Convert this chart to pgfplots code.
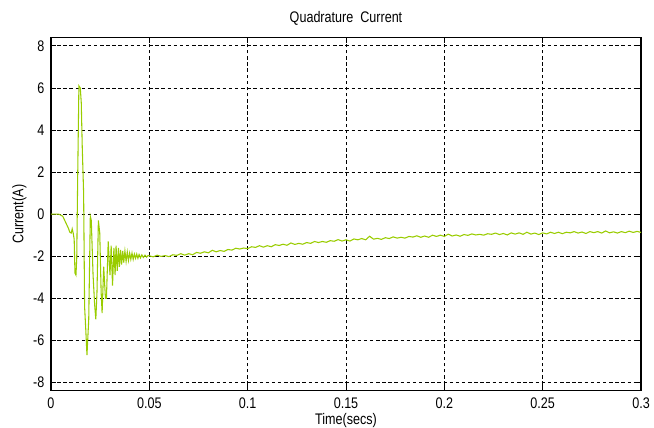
\documentclass[border=0pt]{standalone}
\usepackage{fontspec}
\setmainfont{Liberation Sans}[FakeStretch=0.82]
\usepackage{pgfplots}
\pgfplotsset{compat=1.18}
\definecolor{sig}{RGB}{153,204,0}
\begin{document}
\fontsize{11.5pt}{13pt}\selectfont
\begin{tikzpicture}
\begin{axis}[
  scale only axis,
  width=442.5pt, height=265pt,
  xmin=0, xmax=0.3, ymin=-8.4, ymax=8.4,
  xtick={0,0.05,0.1,0.15,0.2,0.25,0.3},
  xticklabels={0,0.05,0.1,0.15,0.2,0.25,0.3},
  ytick={-8,-6,-4,-2,0,2,4,6,8},
  yticklabels={-8,-6,-4,-2,0,2,4,6,8},
  tick align=inside,
  tick pos=both,
  major tick length=4pt,
  tick style={black, line width=0.6pt},
  grid=major,
  major grid style={black, line width=0.6pt, dash pattern=on 2.6pt off 2pt},
  axis line style={black, line width=0.8pt},
  title={Quadrature\ \ Current},
  xlabel={Time(secs)},
  ylabel={Current(A)},
  xlabel style={yshift=4pt},
  ylabel style={yshift=-3pt},
  every tick label/.append style={font=\fontsize{11.5pt}{13pt}\selectfont},
  label style={font=\fontsize{11.5pt}{13pt}\selectfont},
  title style={font=\fontsize{11.5pt}{13pt}\selectfont, yshift=-1pt},
  xticklabel style={yshift=-1pt},
  yticklabel style={xshift=-1pt},
]
\coordinate (bl) at (rel axis cs:-0.0864,-0.1047);
\coordinate (tr) at (rel axis cs:1.022,1.106);
\addplot[sig, line width=0.8pt] coordinates {
(0,0) (0.004,0) (0.005,-0.05) (0.006,-0.1) (0.0075,-0.4) (0.009,-0.7) (0.0095,-0.85)
(0.0103,-0.9) (0.0108,-0.7) (0.0113,-0.9) (0.0118,-1.2) (0.0122,-2.8) (0.0127,-2.9)
(0.0131,-2.1) (0.0136,1.9) (0.0142,6.1) (0.0149,6.0) (0.0154,5.3) (0.0159,3.2)
(0.0166,1.0) (0.0171,-4.4) (0.0177,-5.5) (0.0183,-6.7) (0.0192,-5.0) (0.0200,-0.1)
(0.0205,-0.3) (0.0214,-2.9) (0.0222,-4.3) (0.0228,-5.0) (0.0234,-3.7) (0.0241,-0.3)
(0.0248,-0.9) (0.0255,-3.7) (0.0260,-4.7) (0.0268,-2.5) (0.0277,-4.0) (0.0282,-4.0)
(0.0291,-1.3) (0.0300,-2.9) (0.0306,-1.5) (0.0313,-3.4) (0.0320,-1.6) (0.0326,-2.9)
(0.0331,-1.5) (0.0337,-2.7) (0.0343,-1.6) (0.0348,-2.5) (0.0354,-1.7) (0.0359,-2.4)
(0.0365,-1.75) (0.0370,-2.3) (0.0376,-1.75) (0.0382,-2.25) (0.0388,-1.8) (0.0394,-2.2)
(0.0400,-1.85) (0.0406,-2.15) (0.0412,-1.85) (0.0418,-2.15) (0.0424,-1.9) (0.0430,-2.1)
(0.0436,-1.9) (0.0442,-2.1) (0.0448,-1.92) (0.0455,-2.08) (0.0462,-1.94) (0.0470,-2.06)
(0.0478,-1.95) (0.0486,-2.04) (0.0494,-1.97)
(0.050,-1.98) (0.052,-2.03) (0.054,-1.95) (0.056,-2.01) (0.058,-1.97) (0.060,-2.02)
(0.062,-1.93) (0.064,-1.96) (0.066,-1.88) (0.068,-1.95) (0.070,-1.88) (0.072,-1.93)
(0.074,-1.82) (0.076,-1.86) (0.078,-1.79) (0.080,-1.84) (0.082,-1.72) (0.084,-1.79)
(0.086,-1.73) (0.088,-1.77) (0.090,-1.68) (0.092,-1.71) (0.094,-1.62) (0.096,-1.66)
(0.098,-1.61) (0.100,-1.64) (0.102,-1.55) (0.104,-1.58) (0.106,-1.50) (0.108,-1.57)
(0.110,-1.50) (0.112,-1.55) (0.114,-1.45) (0.116,-1.49) (0.118,-1.43) (0.120,-1.48)
(0.122,-1.37) (0.124,-1.44) (0.126,-1.39) (0.128,-1.43) (0.130,-1.35) (0.132,-1.39)
(0.134,-1.30) (0.136,-1.35) (0.138,-1.30) (0.140,-1.34) (0.142,-1.26) (0.144,-1.29)
(0.146,-1.21) (0.148,-1.28) (0.150,-1.22) (0.152,-1.28) (0.154,-1.18) (0.156,-1.22)
(0.158,-1.16) (0.160,-1.22) (0.162,-1.05) (0.164,-1.19) (0.166,-1.15) (0.168,-1.20)
(0.170,-1.12) (0.172,-1.16) (0.174,-1.08) (0.176,-1.14) (0.178,-1.10) (0.180,-1.14)
(0.182,-1.06) (0.184,-1.09) (0.186,-1.03) (0.188,-1.10) (0.190,-1.04) (0.192,-1.10)
(0.194,-1.00) (0.196,-1.06) (0.198,-1.00) (0.200,-1.06) (0.202,-0.95) (0.204,-1.04)
(0.206,-0.99) (0.208,-1.05) (0.210,-0.97) (0.212,-1.01) (0.214,-0.94) (0.216,-0.99)
(0.218,-0.96) (0.220,-1.00) (0.222,-0.93) (0.224,-0.96) (0.226,-0.90) (0.228,-0.97)
(0.230,-0.92) (0.232,-0.99) (0.234,-0.89) (0.236,-0.95) (0.238,-0.89) (0.240,-0.96)
(0.242,-0.86) (0.244,-0.95) (0.246,-0.90) (0.248,-0.97) (0.250,-0.89) (0.252,-0.94)
(0.254,-0.86) (0.256,-0.92) (0.258,-0.86) (0.260,-0.93) (0.262,-0.86) (0.264,-0.89)
(0.266,-0.83) (0.268,-0.90) (0.270,-0.85) (0.272,-0.92) (0.274,-0.83) (0.276,-0.88)
(0.278,-0.83) (0.280,-0.90) (0.282,-0.80) (0.284,-0.89) (0.286,-0.84) (0.288,-0.90)
(0.290,-0.83) (0.292,-0.88) (0.294,-0.81) (0.296,-0.87) (0.298,-0.82) (0.300,-0.87)
};
\end{axis}
\pgfresetboundingbox
\path (bl) rectangle (tr);
\end{tikzpicture}
\end{document}
